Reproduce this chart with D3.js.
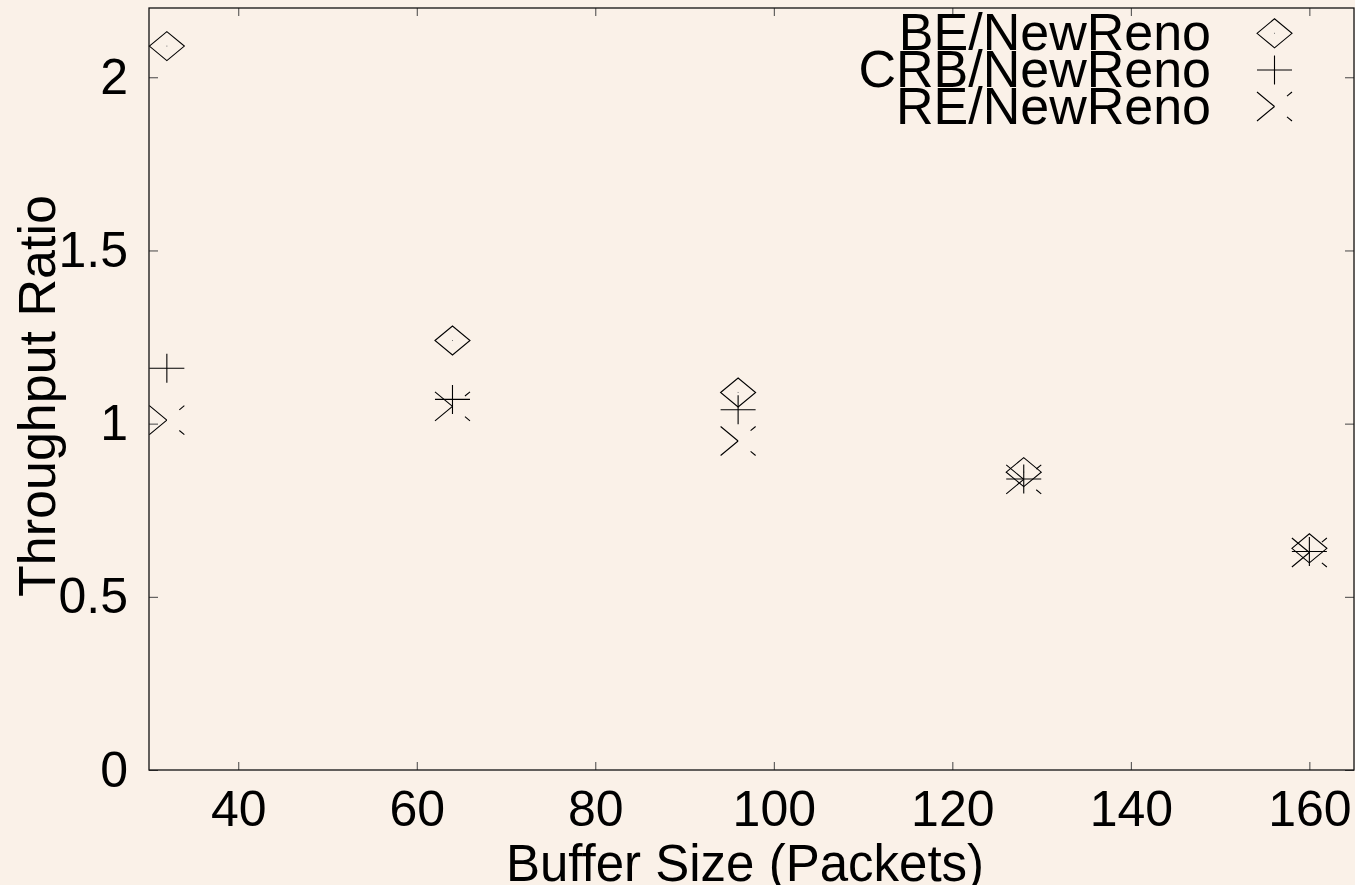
<!DOCTYPE html>
<html>
<head>
<meta charset="utf-8">
<script src="https://cdn.jsdelivr.net/npm/d3@7"></script>
<style>
  html, body { margin: 0; padding: 0; background: #faf1e8; }
  svg { display: block; }
  text { font-family: "Liberation Sans", Arial, sans-serif; fill: #000; }
</style>
</head>
<body>
<div id="container"></div>
<script>
"use strict";

const width = 1355;
const height = 885;

// data
const buffers = [32, 64, 96, 128, 160];
const beRatio = [2.09, 1.24, 1.09, 0.86, 0.64];
const crbRatio = [1.16, 1.07, 1.04, 0.84, 0.631];
const reRatio = [1.01, 1.05, 0.95, 0.839, 0.628];

const seriesNames = ["BE/NewReno", "CRB/NewReno", "RE/NewReno"];
const seriesShapes = ["diamond", "plus", "cross"];

const xTicks = [40, 60, 80, 100, 120, 140, 160];
const yTicks = [0, 0.5, 1, 1.5, 2];
const yTickLabels = ["0", "0.5", "1", "1.5", "2"];

// plot area
const margin = { left: 149, right: 1354, top: 8, bottom: 770 };

const x = d3.scaleLinear().domain([30, 165]).range([margin.left, margin.right]);
const y = d3.scaleLinear().domain([0, 2.2]).range([margin.bottom, margin.top]);

const svg = d3.select("#container").append("svg")
    .attr("width", width)
    .attr("height", height);

svg.append("rect")
    .attr("width", width).attr("height", height)
    .attr("fill", "#faf1e8");

// axes: ticks point inward, mirrored on top and right
const fontSize = 50;
const bigFont = 52;

svg.append("g")
    .attr("transform", "translate(0," + margin.bottom + ")")
    .call(d3.axisBottom(x).tickValues(xTicks).tickSize(-8).tickPadding(20.5))
    .call(g => g.select(".domain").remove())
    .call(g => g.selectAll("line").attr("stroke", "#444"))
    .call(g => g.selectAll("text").attr("font-size", fontSize).attr("fill", "#000"));

svg.append("g")
    .attr("transform", "translate(" + margin.left + ",0)")
    .call(d3.axisLeft(y).tickValues(yTicks).tickSize(-9).tickPadding(21)
        .tickFormat((d, i) => yTickLabels[i]))
    .call(g => g.select(".domain").remove())
    .call(g => g.selectAll("line").attr("stroke", "#444"))
    .call(g => g.selectAll("text").attr("font-size", fontSize).attr("fill", "#000"));

svg.append("g")
    .attr("transform", "translate(0," + margin.top + ")")
    .call(d3.axisTop(x).tickValues(xTicks).tickSize(-8).tickFormat(""))
    .call(g => g.select(".domain").remove())
    .call(g => g.selectAll("line").attr("stroke", "#444"));

svg.append("g")
    .attr("transform", "translate(" + margin.right + ",0)")
    .call(d3.axisRight(y).tickValues(yTicks).tickSize(-9).tickFormat(""))
    .call(g => g.select(".domain").remove())
    .call(g => g.selectAll("line").attr("stroke", "#444"));

// border
svg.append("rect")
    .attr("x", margin.left).attr("y", margin.top)
    .attr("width", margin.right - margin.left)
    .attr("height", margin.bottom - margin.top)
    .attr("fill", "none")
    .attr("stroke", "#111")
    .attr("stroke-width", 1.3);

// axis titles
svg.append("text")
    .attr("x", 745).attr("y", 881)
    .attr("text-anchor", "middle")
    .attr("font-size", 51)
    .text("Buffer Size (Packets)");

svg.append("text")
    .attr("transform", "translate(55," + 396 + ") rotate(-90)")
    .attr("text-anchor", "middle")
    .attr("font-size", bigFont)
    .text("Throughput Ratio");

// marker drawing (gnuplot style point types)
const hw = 17.5, hh = 14.5;

function drawMarker(g, shape, cx, cy) {
    if (shape === "diamond") {
        g.append("path")
            .attr("d", `M${cx - hw},${cy}L${cx},${cy - hh}L${cx + hw},${cy}L${cx},${cy + hh}Z`)
            .attr("fill", "none").attr("stroke", "#000").attr("stroke-width", 1.1);
        g.append("rect")
            .attr("x", cx - 0.5).attr("y", cy - 0.5)
            .attr("width", 1).attr("height", 1)
            .attr("fill", "#777");
    } else if (shape === "plus") {
        g.append("path")
            .attr("d", `M${cx - hw},${cy}L${cx + hw},${cy}M${cx},${cy - hh}L${cx},${cy + hh}`)
            .attr("fill", "none").attr("stroke", "#000").attr("stroke-width", 1.1);
    } else {
        // dashed cross: solid to the centre, then gap and a short dash
        const len = Math.sqrt(4 * hw * hw + 4 * hh * hh);
        const dash = [len * 0.5, len * 0.357, len * 0.143, len].join(",");
        g.append("line")
            .attr("x1", cx - hw).attr("y1", cy - hh)
            .attr("x2", cx + hw).attr("y2", cy + hh)
            .attr("stroke", "#000").attr("stroke-width", 1.1)
            .attr("stroke-dasharray", dash);
        g.append("line")
            .attr("x1", cx - hw).attr("y1", cy + hh)
            .attr("x2", cx + hw).attr("y2", cy - hh)
            .attr("stroke", "#000").attr("stroke-width", 1.1)
            .attr("stroke-dasharray", dash);
    }
}

const allSeries = [beRatio, crbRatio, reRatio];

const points = svg.append("g");
allSeries.forEach((vals, si) => {
    vals.forEach((v, i) => {
        drawMarker(points, seriesShapes[si], x(buffers[i]), y(v));
    });
});

// legend, top right
const legend = svg.append("g");
const legendY = [33.3, 70, 106.5];
seriesNames.forEach((name, si) => {
    legend.append("text")
        .attr("x", 1211)
        .attr("y", legendY[si] + 17)
        .attr("text-anchor", "end")
        .attr("font-size", bigFont)
        .text(name);
    drawMarker(legend, seriesShapes[si], 1274.5, legendY[si]);
});
</script>
</body>
</html>
